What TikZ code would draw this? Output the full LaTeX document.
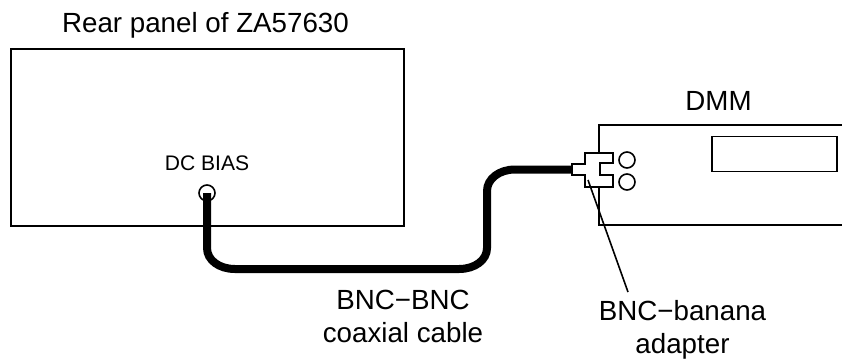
\documentclass[tikz,border=0pt]{standalone}
\usepackage{fontspec}
\setmainfont{Liberation Sans}
\tikzset{
  panel/.style={draw, line width=1.2pt},
  cable/.style={line width=6pt},
  label/.style={font=\fontsize{20.8}{24.75}\selectfont, align=center, inner sep=0pt, anchor=base},
}
\begin{document}
\begin{tikzpicture}[x=0.75pt, y=-0.75pt]
  \useasboundingbox (0,0) rectangle (842,358);

  % Rear panel
  \node[panel, minimum width=295pt, minimum height=132.75pt, inner sep=0pt, anchor=north west] (rear) at (10,48) {};
  \node[label] (reartitle) at (205.5,32) {Rear panel of ZA57630};
  \node[label, font=\fontsize{15.8}{18}\selectfont] (bias) at (207,170) {DC BIAS};
  \node[panel, circle, minimum size=12pt, inner sep=0pt] (jack) at (207,193) {};

  % DMM, open on the right
  \coordinate (dmmtop) at (599,125);
  \coordinate (dmmbot) at (599,225);
  \draw[panel] (842,125) -- (dmmtop) -- (599,153);
  \draw[panel] (599,187) -- (dmmbot) -- (842,225);
  \node[label] (dmm) at (718.5,110) {DMM};
  \node[panel, minimum width=94pt, minimum height=26pt, inner sep=0pt] (display) at (774.5,154) {};
  \node[panel, circle, minimum size=12pt, inner sep=0pt] (hi) at (627,160) {};
  \node[panel, circle, minimum size=12pt, inner sep=0pt] (lo) at (627,182) {};

  % Adapter
  \draw[panel, fill=white] (572,164) -- (585,164) -- (585,153) -- (613,153) -- (613,163)
    -- (600,163) -- (600,175) -- (613,175) -- (613,187) -- (585,187) -- (585,175) -- (572,175) -- cycle;
  \coordinate (plug) at (572,169.5);

  % Cable
  \draw[cable] (jack.center) -- (207,248) .. controls (207,260) and (219,269) .. (235,269)
    -- (459,269) .. controls (475,269) and (487,260) .. (487,248)
    -- (487,191) .. controls (487,179) and (499,169.5) .. (515,169.5) -- (plug);

  % Labels
  \node[label] (coax) at (403,342) {BNC−BNC\\coaxial cable};
  \node[label] (adapter) at (682.5,353) {BNC−banana\\adapter};
  \coordinate (tip) at (588,180);
  \coordinate (tail) at (628,292);
  \draw[line width=1.2pt] (tip) -- (tail);
\end{tikzpicture}
\end{document}
